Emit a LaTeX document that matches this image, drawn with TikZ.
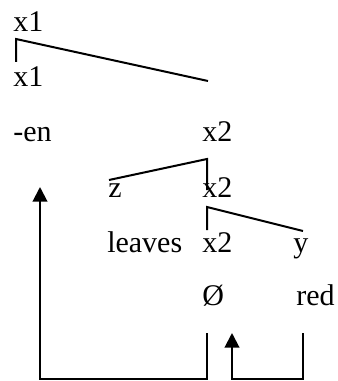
\documentclass[tikz,border=0pt]{standalone}
\usepackage{fontspec}
\setmainfont{Liberation Serif}
\usetikzlibrary{arrows.meta}
\begin{document}
\begin{tikzpicture}[x=0.75pt,y=-0.75pt,
  lbl/.style={anchor=base west,inner sep=0pt,font=\fontsize{22.5}{25}\selectfont},
  ln/.style={line width=1.5pt},
  arr/.style={line width=1.5pt,-{Triangle[width=11pt,length=11pt]}}]
\useasboundingbox (0,0) rectangle (338,381);
% labels
\node[lbl] (x1a) at (13,32) {x1};
\node[lbl] (x1b) at (13,87) {x1};
\node[lbl] (en) at (13,142) {-en};
\node[lbl] (x2a) at (202,142) {x2};
\node[lbl] (z) at (108,197) {z};
\node[lbl] (x2b) at (202,197) {x2};
\node[lbl] (leaves) at (107,252) {leaves};
\node[lbl] (x2c) at (202,252) {x2};
\node[lbl] (yy) at (293,252) {y};
\node[lbl] (empty) at (202,305) {Ø};
\node[lbl] (red) at (296,305) {red};
% tree coordinates
\coordinate (t1) at (16,39);
\coordinate (t1d) at (16,62);
\coordinate (t1r) at (208,81);
\coordinate (t2) at (207,159);
\coordinate (t2l) at (109,180);
\coordinate (t2d) at (207,190);
\coordinate (t3) at (207,207);
\coordinate (t3d) at (207,230);
\coordinate (t3r) at (303,231);
% tree lines
\draw[ln] (t1d) -- (t1) -- (t1r);
\draw[ln] (t2l) -- (t2) -- (t2d);
\draw[ln] (t3d) -- (t3) -- (t3r);
% movement arrows
\coordinate (a1s) at (207,333);
\coordinate (a1c1) at (207,379);
\coordinate (a1c2) at (40,379);
\coordinate (a1e) at (40,187);
\draw[arr] (a1s) -- (a1c1) -- (a1c2) -- (a1e);
\coordinate (a2s) at (303,333);
\coordinate (a2c1) at (303,379);
\coordinate (a2c2) at (232,379);
\coordinate (a2e) at (232,333);
\draw[arr] (a2s) -- (a2c1) -- (a2c2) -- (a2e);
\end{tikzpicture}
\end{document}
